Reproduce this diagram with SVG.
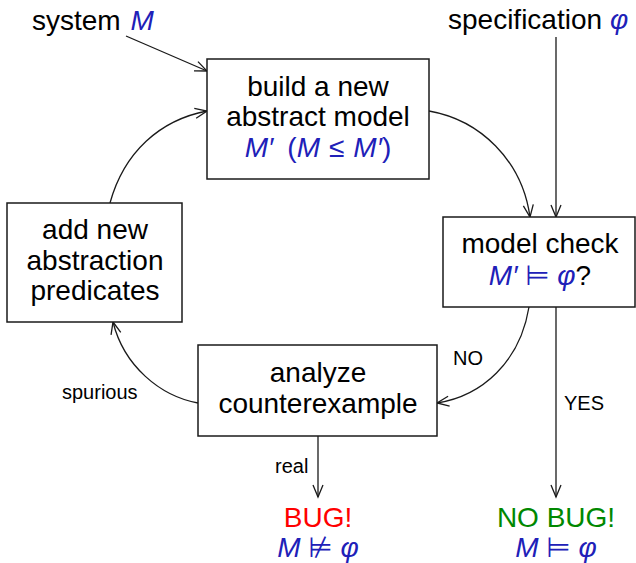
<svg xmlns="http://www.w3.org/2000/svg" width="636" height="563" viewBox="0 0 636 563">
<defs>
<style>
text{font-family:"Liberation Sans","DejaVu Sans",sans-serif;fill:#000}
.big{font-size:28px}
.small{font-size:20px}
.m{fill:#2020b8}
.i{font-style:italic}
.box{fill:#fff;stroke:#1a1a1a;stroke-width:1.5}
.edge{fill:none;stroke:#1a1a1a;stroke-width:1.3}
.red{fill:#ff0000}
.green{fill:#008800}
</style>
<marker id="ah" viewBox="-14 -7 16 14" refX="0" refY="0" markerWidth="16" markerHeight="14" markerUnits="userSpaceOnUse" orient="auto" overflow="visible">
<path d="M-12,-5 L0,0 L-12,5" fill="none" stroke="#1a1a1a" stroke-width="1.3"/>
</marker>
</defs>

<g id="connectors">
<path class="edge" d="M126,36 L207,71" marker-end="url(#ah)"/>
<path class="edge" d="M556,37 L556,217" marker-end="url(#ah)"/>
<path class="edge" d="M429,111 C480,120 522,160 530,217" marker-end="url(#ah)"/>
<path class="edge" d="M529,307 C520,362 482,396 437,403" marker-end="url(#ah)"/>
<path class="edge" d="M556,307 L556,497" marker-end="url(#ah)"/>
<path class="edge" d="M318,436 L318,497" marker-end="url(#ah)"/>
<path class="edge" d="M198,403 C160,396 124,366 113,322" marker-end="url(#ah)"/>
<path class="edge" d="M110,203 C124,152 160,120 207,111" marker-end="url(#ah)"/>
<text class="small" x="62" y="399">spurious</text>
<text class="small" x="453" y="365">NO</text>
<text class="small" x="564" y="410">YES</text>
<text class="small" x="275" y="473">real</text>
</g>

<g id="system">
<text class="big" x="32" y="30">system <tspan class="m i" dx="2">M</tspan></text>
</g>

<g id="specification">
<text class="big" x="448" y="29">specification <tspan class="m i">φ</tspan></text>
</g>

<g id="build">
<rect class="box" x="207" y="59" width="222" height="120"/>
<text class="big" x="318" y="96" text-anchor="middle">build a new</text>
<text class="big" x="318" y="126" text-anchor="middle">abstract model</text>
<text class="big m" x="318" y="157" text-anchor="middle"><tspan class="i">M′</tspan><tspan dx="14">(</tspan><tspan class="i">M</tspan><tspan dx="9">≤</tspan><tspan class="i" dx="9">M′</tspan>)</text>
</g>

<g id="modelcheck">
<rect class="box" x="443" y="217" width="192" height="90"/>
<text class="big" x="540" y="253" text-anchor="middle">model check</text>
<text class="big" x="540" y="285" text-anchor="middle"><tspan class="m i">M′</tspan><tspan class="m"> ⊨ </tspan><tspan class="m i">φ</tspan>?</text>
</g>

<g id="addpred">
<rect class="box" x="7" y="203" width="175" height="119"/>
<text class="big" x="95" y="239" text-anchor="middle">add new</text>
<text class="big" x="95" y="270" text-anchor="middle">abstraction</text>
<text class="big" x="95" y="300" text-anchor="middle">predicates</text>
</g>

<g id="analyze">
<rect class="box" x="198" y="345" width="239" height="91"/>
<text class="big" x="318" y="382" text-anchor="middle">analyze</text>
<text class="big" x="318" y="413" text-anchor="middle">counterexample</text>
</g>

<g id="bug">
<text class="big red" x="318" y="527" text-anchor="middle">BUG!</text>
<text class="big m" x="318" y="557" text-anchor="middle"><tspan class="i">M</tspan> ⊭ <tspan class="i">φ</tspan></text>
</g>

<g id="nobug">
<text class="big green" x="556" y="527" text-anchor="middle">NO BUG!</text>
<text class="big m" x="556" y="557" text-anchor="middle"><tspan class="i">M</tspan> ⊨ <tspan class="i">φ</tspan></text>
</g>
</svg>
